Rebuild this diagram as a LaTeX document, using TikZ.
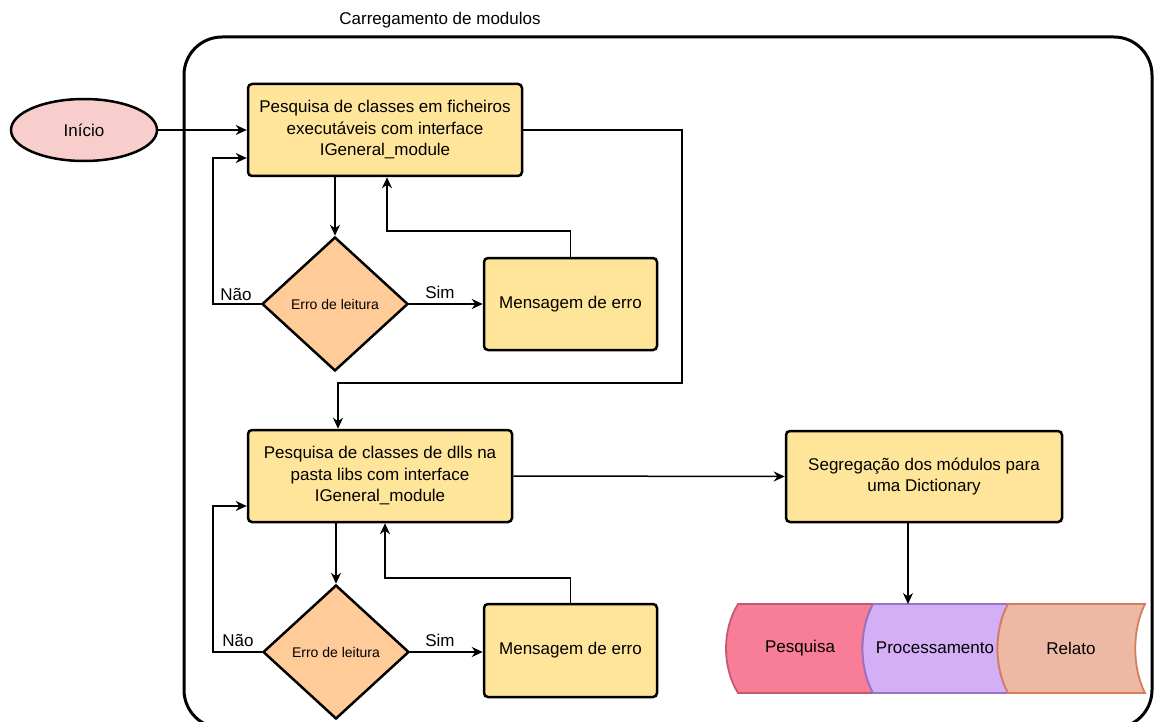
\documentclass[tikz,border=0pt]{standalone}
\usepackage{fontspec}
\setmainfont{Liberation Sans}
\usetikzlibrary{shapes.geometric,arrows.meta}

\definecolor{boxfill}{HTML}{FFE599}
\definecolor{decfill}{HTML}{FFCC99}
\definecolor{startfill}{HTML}{F8CECC}
\definecolor{pinkfill}{HTML}{F87D96}
\definecolor{pinkline}{HTML}{C25A70}
\definecolor{lilacfill}{HTML}{D4AFF5}
\definecolor{lilacline}{HTML}{9673C8}
\definecolor{salmonfill}{HTML}{EDB9A5}
\definecolor{salmonline}{HTML}{D77D5F}

\begin{document}
\begin{tikzpicture}[x=1pt,y=-1pt,
  every node/.style={font=\fontsize{17}{21.5}\selectfont},
  proc/.style={draw, line width=2.5pt, fill=boxfill, rounded corners=4pt,
    align=center, inner sep=0pt},
  decision/.style={diamond, draw, line width=2.5pt, fill=decfill, inner sep=0pt,
    minimum width=146pt, minimum height=134pt, font=\fontsize{14}{17}\selectfont},
  startnode/.style={ellipse, draw, line width=2.5pt, fill=startfill,
    minimum width=146pt, minimum height=62pt},
  arr/.style={line width=1.5pt, -{Stealth[length=11pt,width=10pt]}},
  link/.style={line width=1.5pt},
  tape/.style={line width=1.8pt},
]
\useasboundingbox (0,0) rectangle (1154,722);

% container of the module loading stage
\draw[line width=3pt, rounded corners=38pt] (184,37) rectangle (1152,728);
\node (title) at (440,20) {Carregamento de modulos};

% nodes
\node[startnode] (start) at (84,130) {Início};

\node[proc, minimum width=274pt, minimum height=92pt] (b1) at (385,130)
  {Pesquisa de classes em ficheiros\\executáveis com interface\\IGeneral\_module};
\node[decision] (d1) at (335,304) {Erro de leitura};
\node[proc, minimum width=173pt, minimum height=92pt] (m1) at (570.5,304) {Mensagem de erro};

\node[proc, minimum width=264pt, minimum height=92pt] (b2) at (380,476)
  {Pesquisa de classes de dlls na\\pasta libs com interface\\IGeneral\_module};
\node[decision] (d2) at (336,652) {Erro de leitura};
\node[proc, minimum width=173pt, minimum height=93pt] (m2) at (570.5,650.5) {Mensagem de erro};

\node[proc, minimum width=276pt, minimum height=91pt] (seg) at (924,476.5)
  {Segregação dos módulos para\\uma Dictionary};

% output tapes
\draw[tape, draw=pinkline, fill=pinkfill]
  (738,604) -- (873,604) .. controls (859,630) and (859,667) .. (873,693)
  -- (738,693) .. controls (722,667) and (722,630) .. (738,604) -- cycle;
\draw[tape, draw=lilacline, fill=lilacfill]
  (873,604) -- (1008,604) .. controls (994,630) and (994,667) .. (1008,693)
  -- (873,693) .. controls (859,667) and (859,630) .. (873,604) -- cycle;
\draw[tape, draw=salmonline, fill=salmonfill]
  (1008,604) -- (1145,604) .. controls (1132,630) and (1132,667) .. (1145,693)
  -- (1008,693) .. controls (994,667) and (994,630) .. (1008,604) -- cycle;
\node (t1) at (800,648) {Pesquisa};
\node (t2) at (935,648) {Processamento};
\node (t3) at (1071,648) {Relato};
\coordinate (tapetop) at (908,604);

% waypoints
\coordinate (l1) at (213,158);
\coordinate (r1) at (387,231);
\coordinate (k1) at (682,130);
\coordinate (k2) at (682,383);
\coordinate (k3) at (338,383);
\coordinate (l2) at (213,506);
\coordinate (r2) at (385,578);

% connectors
\draw[arr] (start) -- (b1.west |- start);
\draw[arr] (b1.south -| d1.north) -- (d1.north);
\draw[arr] (d1.east) -- (m1.west |- d1.east);
\draw[arr] (m1.north) |- (r1) -- (r1 |- b1.south);
\draw[arr] (d1.west) -| (l1) -- (b1.west |- l1);
\draw[arr] (b1.east |- k1) -- (k1) -- (k2) -- (k3) -- (b2.north -| k3);

\draw[arr] (b2.south -| d2.north) -- (d2.north);
\draw[arr] (d2.east) -- (m2.west |- d2.east);
\draw[arr] (m2.north) |- (r2) -- (r2 |- b2.south);
\draw[arr] (d2.west) -| (l2) -- (b2.west |- l2);

\draw[arr] (b2.east) -- (seg.west);
\draw[arr] (seg.south -| tapetop) -- (tapetop);

% branch labels
\node (n1) at (236,294) {Não};
\node (s1) at (440,292) {Sim};
\node (n2) at (238,640) {Não};
\node (s2) at (440,640) {Sim};
\end{tikzpicture}
\end{document}
